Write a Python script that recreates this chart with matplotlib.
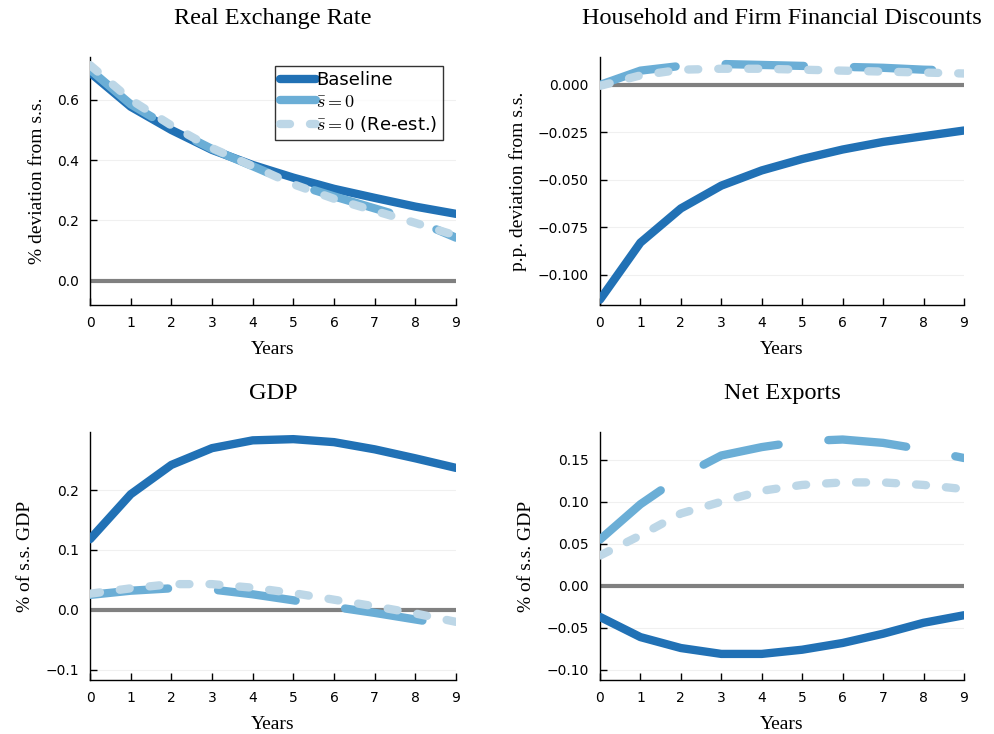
import matplotlib
matplotlib.use('Agg')
from matplotlib import pyplot as plt

plt.rcParams['font.family'] = 'DejaVu Sans'
plt.rcParams['mathtext.fontset'] = 'cm'

years = list(range(10))

# Real Exchange Rate
rer_base = [0.69, 0.577, 0.50, 0.434, 0.384, 0.342, 0.305, 0.275, 0.246, 0.222]
rer_s0 = [0.70, 0.585, 0.505, 0.437, 0.38, 0.322, 0.28, 0.24, 0.20, 0.143]
rer_reest = [0.715, 0.60, 0.515, 0.44, 0.38, 0.32, 0.272, 0.232, 0.192, 0.15]

# Household and Firm Financial Discounts
disc_base = [-0.113, -0.083, -0.065, -0.053, -0.045, -0.039, -0.034, -0.030, -0.027, -0.024]
disc_s0 = [0.0, 0.0075, 0.010, 0.011, 0.0105, 0.010, 0.0095, 0.009, 0.008, 0.0075]
disc_reest = [-0.0005, 0.005, 0.008, 0.0085, 0.0085, 0.008, 0.0075, 0.007, 0.0065, 0.006]

# GDP
gdp_base = [0.118, 0.193, 0.242, 0.27, 0.283, 0.285, 0.28, 0.268, 0.253, 0.237]
gdp_s0 = [0.025, 0.032, 0.036, 0.034, 0.026, 0.016, 0.005, -0.005, -0.016, -0.027]
gdp_reest = [0.027, 0.036, 0.043, 0.043, 0.037, 0.028, 0.017, 0.006, -0.006, -0.02]

# Net Exports
nx_base = [-0.037, -0.061, -0.074, -0.081, -0.081, -0.076, -0.068, -0.057, -0.044, -0.035]
nx_s0 = [0.055, 0.097, 0.13, 0.155, 0.165, 0.172, 0.174, 0.17, 0.162, 0.152]
nx_reest = [0.036, 0.06, 0.086, 0.10, 0.113, 0.12, 0.123, 0.123, 0.12, 0.115]

c_base = '#2171b5'
c_s0 = '#6baed6'
c_reest = '#bdd7e7'

fig = plt.figure(figsize=(9.95, 7.34), dpi=100)

panels = [
    ('Real Exchange Rate', '% deviation from s.s.', rer_base, rer_s0, rer_reest,
     (-0.08, 0.742), [0.0, 0.2, 0.4, 0.6], '%.1f', [0.0905, 0.5845, 0.3678, 0.3379]),
    ('Household and Firm Financial Discounts', 'p.p. deviation from s.s.', disc_base, disc_s0, disc_reest,
     (-0.1158, 0.0147), [-0.1, -0.075, -0.05, -0.025, 0.0], '%.3f', [0.603, 0.5845, 0.3658, 0.3379]),
    ('GDP', '% of s.s. GDP', gdp_base, gdp_s0, gdp_reest,
     (-0.117, 0.297), [-0.1, 0.0, 0.1, 0.2], '%.1f', [0.0905, 0.0736, 0.3678, 0.3379]),
    ('Net Exports', '% of s.s. GDP', nx_base, nx_s0, nx_reest,
     (-0.112, 0.183), [-0.1, -0.05, 0.0, 0.05, 0.1, 0.15], '%.2f', [0.603, 0.0736, 0.3658, 0.3379]),
]

for i, (title, ylab, base, s0, reest, ylim, yt, fmt, pos) in enumerate(panels):
    ax = fig.add_axes(pos)
    ax.plot(years, [0] * len(years), color='#808080', lw=3, solid_capstyle='round', zorder=2)
    ax.plot(years, base, color=c_base, lw=6, solid_capstyle='round', label='Baseline', zorder=3)
    ax.plot(years, s0, color=c_s0, lw=6, dashes=(9.4, 6), dash_capstyle='round',
            label=r'$\bar{s}=0$', zorder=4)
    ax.plot(years, reest, color=c_reest, lw=6, dashes=(1.2, 2.4), dash_capstyle='round',
            label=r'$\bar{s}=0$ (Re-est.)', zorder=5)
    ax.set_xlim(0, 9)
    ax.set_ylim(*ylim)
    ax.set_xticks(years)
    ax.set_yticks(yt)
    ax.set_yticklabels([(fmt % v).replace('-', '\u2212') for v in yt])
    ax.tick_params(direction='in', length=5, width=1, labelsize=10, colors='black', pad=8)
    ax.grid(axis='y', color='#000000', alpha=0.06, lw=0.8)
    ax.set_axisbelow(True)
    for s in ['top', 'right']:
        ax.spines[s].set_visible(False)
    for s in ['left', 'bottom']:
        ax.spines[s].set_linewidth(1)
    ax.set_title(title, family='Liberation Serif', fontsize=17.5, pad=24)
    ax.set_xlabel('Years', family='Liberation Serif', fontsize=14, labelpad=8)
    ax.set_ylabel(ylab, family='Liberation Serif', fontsize=14, labelpad=8)
    if i == 0:
        leg = ax.legend(loc='upper right', bbox_to_anchor=(0.965, 0.965), borderaxespad=0,
                        fontsize=13, frameon=True, fancybox=False, handlelength=2.0,
                        handletextpad=0.0, borderpad=0.3, labelspacing=0.2)
        leg.get_frame().set_edgecolor('black')
        leg.get_frame().set_linewidth(1)

plt.savefig('out.png', dpi=100)
